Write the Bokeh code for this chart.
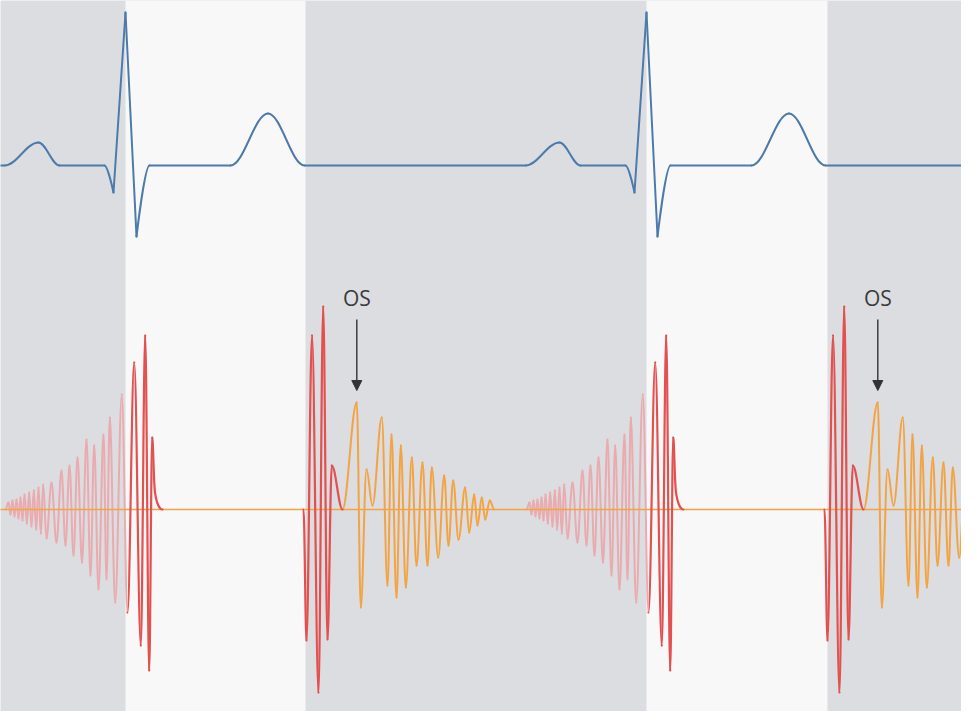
from bokeh.plotting import figure
from bokeh.models import Range1d, Arrow, NormalHead, BoxAnnotation
from bokeh.core.properties import value
from bokeh.embed import file_html
from bokeh.resources import INLINE

# ---------------- data (time relative to each R peak, amplitude upward) ----------------
r_peak_times = [133, 654]          # R peaks (start of systole)
systole_end_times = [313, 835]     # end of systole (S2)
t_first, t_last = 0, 977

# ECG, one beat
ecg_t = [-121, -87, -66, -21, -12, 0, 11, 24, 105, 142.5, 179]
ecg_a = [0, 23, 0, 0, -27, 153, -71, 0, 0, 52, 0]
ecg_corner_t = [-12, 0, 11]

# presystolic crescendo murmur (pink)
pre_t = [-120, -117, -115, -113, -111, -109, -107, -105, -103, -101, -98.7, -96.3, -94,
         -91.7, -89.3, -87, -84.7, -82.3, -79, -74, -69, -64, -60, -56, -52, -48, -43.5,
         -39, -35, -31.3, -27, -22, -19, -15.7, -10.3, -3.7, 2]
pre_a = [0, 7, -5, 9, -7, 10, -9, 12, -11, 15, -14, 17, -17,
         19, -20, 22, -24, 25, -29, 27, -33, 39, -36, 44, -46, 52, -53,
         70, -66, 64, -80, 75, -70, 92, -93, 115, -103]

# S1 (red)
s1_t = [2, 8.7, 15.3, 19.7, 23.7, 26.7, 29.5, 37]
s1_a = [-103, 147, -136, 174, -161, 72, 17, 0]

# S2 (red)
s2_t = [178, 181, 186.5, 193, 197.7, 202, 206.3, 217]
s2_a = [0, -131, 174, -183, 203, -130, 44, 0]

# opening snap + diastolic decrescendo murmur (orange)
ds_t = [217, 231.3, 235.3, 241, 247, 256.3, 262, 266, 271, 275.3, 280.3, 286.3, 291, 297,
        302, 306.3, 312.7, 318.7, 323, 327.7, 333, 339.7, 343.7, 348.7, 352, 356.3, 359.7,
        364.3, 368.7]
ds_a = [0, 107, -98, 40, 4, 92, -76, 75, -88, 64, -78, 52, -56, 47,
        -56, 42, -48, 34, -36, 29, -30, 22, -23, 15, -16, 12, -10, 9, 0]
os_index = 1
os_label = "OS"

# ---------------- layout / style ----------------
ECG_BASE = 554
MUR_BASE = 210
GRAY = "#dcdde0"
WHITE = "#f8f8f8"
BLUE = "#4c7bab"
RED = "#e2504f"
PINK = "#e9abaf"
ORANGE = "#f2a444"
K = 0.36


def bezier_cols(xs, ys, corners=()):
    n = len(xs)
    kinds = []
    for i in range(n):
        if i in corners:
            kinds.append("c")
        elif i == 0 or i == n - 1:
            kinds.append("h")
        else:
            d1 = ys[i] - ys[i - 1]
            d2 = ys[i + 1] - ys[i]
            kinds.append("h" if d1 * d2 <= 0 else "s")

    def handle(j, dx):
        kind = kinds[j]
        if kind == "c":
            return 0.0, 0.0
        if kind == "h":
            return K * dx, 0.0
        mx = (xs[j + 1] - xs[j - 1]) / 6.0
        my = (ys[j + 1] - ys[j - 1]) / 6.0
        s = min(1.0, 0.5 * dx / mx) if mx > 0 else 1.0
        return mx * s, my * s

    cols = dict(x0=[], y0=[], x1=[], y1=[], cx0=[], cy0=[], cx1=[], cy1=[])
    for i in range(n - 1):
        dx = xs[i + 1] - xs[i]
        hx0, hy0 = handle(i, dx)
        hx1, hy1 = handle(i + 1, dx)
        cols["x0"].append(xs[i]); cols["y0"].append(ys[i])
        cols["x1"].append(xs[i + 1]); cols["y1"].append(ys[i + 1])
        cols["cx0"].append(xs[i] + hx0); cols["cy0"].append(ys[i] + hy0)
        cols["cx1"].append(xs[i + 1] - hx1); cols["cy1"].append(ys[i + 1] - hy1)
    return cols


p = figure(width=961, height=711, x_range=Range1d(8, 969), y_range=Range1d(8, 719),
           output_backend="svg", toolbar_location=None, min_border=0,
           x_axis_location=None, y_axis_location=None)
p.grid.visible = False
p.outline_line_color = None
p.background_fill_color = GRAY
p.border_fill_color = GRAY

for a, b in zip(r_peak_times, systole_end_times):
    p.add_layout(BoxAnnotation(left=a, right=b, fill_color=WHITE, fill_alpha=1.0,
                               line_color=None, level="underlay"))

# ECG trace
ex, ey, ec = [t_first], [ECG_BASE], []
for r in r_peak_times:
    for t, a in zip(ecg_t, ecg_a):
        if t in ecg_corner_t:
            ec.append(len(ex))
        ex.append(r + t)
        ey.append(ECG_BASE + a)
ex.append(t_last); ey.append(ECG_BASE)


def murmur(ts, amps):
    xs, ys = [], []
    for r in r_peak_times:
        xs.append([r + t for t in ts])
        ys.append([MUR_BASE + a for a in amps])
    return xs, ys


for xs, ys in zip(*murmur(pre_t, pre_a)):
    p.bezier(line_color=PINK, line_width=2.0, line_cap="round", **bezier_cols(xs, ys))

p.line([t_first, t_last], [MUR_BASE, MUR_BASE], line_color=ORANGE, line_width=1.6)

for ts, amps, col, lw in [(ds_t, ds_a, ORANGE, 2.0), (s1_t, s1_a, RED, 2.2), (s2_t, s2_a, RED, 2.2)]:
    for xs, ys in zip(*murmur(ts, amps)):
        p.bezier(line_color=col, line_width=lw, line_cap="round", **bezier_cols(xs, ys))

p.bezier(line_color=BLUE, line_width=2.0, line_cap="round", **bezier_cols(ex, ey, corners=ec))

# OS arrows and labels
os_x = [r + ds_t[os_index] for r in r_peak_times]
os_peak = MUR_BASE + ds_a[os_index]
for x in os_x:
    p.add_layout(Arrow(end=NormalHead(size=10, fill_color="#333333", line_color="#333333", line_width=1),
                       x_start=x, y_start=os_peak + 83, x_end=x, y_end=os_peak + 12,
                       line_color="#333333", line_width=1.4))
p.text(x=os_x, y=[os_peak + 105] * len(os_x), text=[os_label] * len(os_x),
       text_font=value("Open Sans"), text_font_size="21px", text_align="center",
       text_baseline="alphabetic", text_color="#3a3a3a")

open("out.html", "w").write(file_html(p, INLINE))
